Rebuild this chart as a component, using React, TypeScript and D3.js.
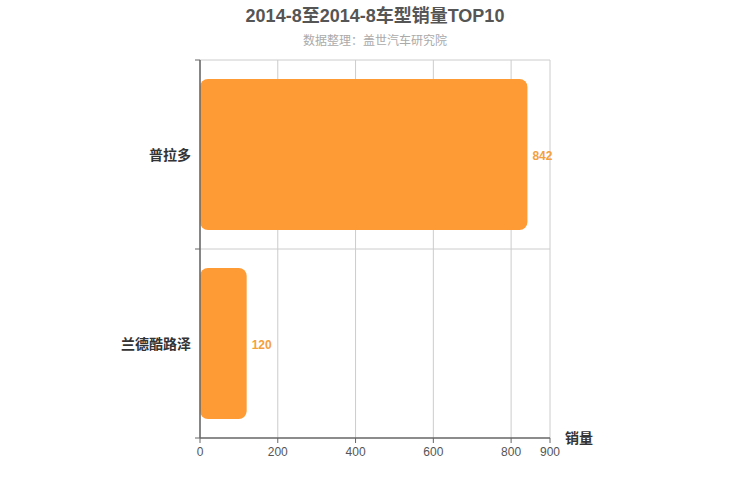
import React from "react";
import * as d3 from "d3";

const categories = ["普拉多", "兰德酷路泽"];
const sales = [842, 120];
const xTicks = [0, 200, 400, 600, 800, 900];
const titleText = "2014-8至2014-8车型销量TOP10";
const subtitleText = "数据整理：盖世汽车研究院";
const axisName = "销量";

export default function App() {
  const W = 750, H = 500;
  const left = 200, right = 550, top = 60, bottom = 438;
  const x = d3.scaleLinear().domain([0, 900]).range([left, right]);
  const y = d3.scaleBand().domain(categories).range([top, bottom]).paddingInner(0.2).paddingOuter(0.1);
  const bandEdges = [top, top + (bottom - top) / 2, bottom];
  const font = "'Helvetica Neue', Arial, 'Liberation Sans', 'Noto Sans CJK SC', sans-serif";
  const barColor = "#ff9b35";
  return (
    <svg width={W} height={H} style={{ position: "absolute", left: 0, top: 0, fontFamily: font }}>
      <rect width={W} height={H} fill="#fff" />
      <text x={375} y={22} textAnchor="middle" fontSize={18} fontWeight="bold" fill="#555">{titleText}</text>
      <text x={375} y={45} textAnchor="middle" fontSize={12} fill="#aaa">{subtitleText}</text>
      {xTicks.map((t) => (
        <line key={"g" + t} x1={x(t)} x2={x(t)} y1={top} y2={bottom} stroke="#ccc" strokeWidth={1} />
      ))}
      {bandEdges.slice(0, 2).map((v, i) => (
        <line key={"h" + i} x1={left} x2={right} y1={v} y2={v} stroke="#ccc" strokeWidth={1} />
      ))}
      {categories.map((c, i) => (
        <g key={c}>
          <rect x={x(0)} y={y(c)} width={x(sales[i]) - x(0)} height={y.bandwidth()} rx={8} ry={8} fill={barColor} />
          <text x={x(sales[i]) + 5} y={y(c)! + y.bandwidth() / 2 + 1} dy="0.35em" fontSize={12} fontWeight="bold" fill="#f4a040">{sales[i]}</text>
          <text x={left - 9} y={y(c)! + y.bandwidth() / 2 + 1} dy="0.35em" textAnchor="end" fontSize={14} fontWeight="bold" fill="#333">{c}</text>
        </g>
      ))}
      <line x1={left} x2={right} y1={bottom} y2={bottom} stroke="#666" strokeWidth={1.5} />
      {xTicks.map((t) => (
        <g key={"t" + t}>
          <line x1={x(t)} x2={x(t)} y1={bottom} y2={bottom + 5} stroke="#666" />
          <text x={x(t)} y={bottom + 18} textAnchor="middle" fontSize={12} fill="#555">{t}</text>
        </g>
      ))}
      <line x1={left} x2={left} y1={top} y2={bottom} stroke="#666" strokeWidth={1.5} />
      {bandEdges.map((v, i) => (
        <line key={"yt" + i} x1={left - 5} x2={left} y1={v} y2={v} stroke="#666" />
      ))}
      <text x={565} y={443} fontSize={14} fontWeight="bold" fill="#333">{axisName}</text>
    </svg>
  );
}
